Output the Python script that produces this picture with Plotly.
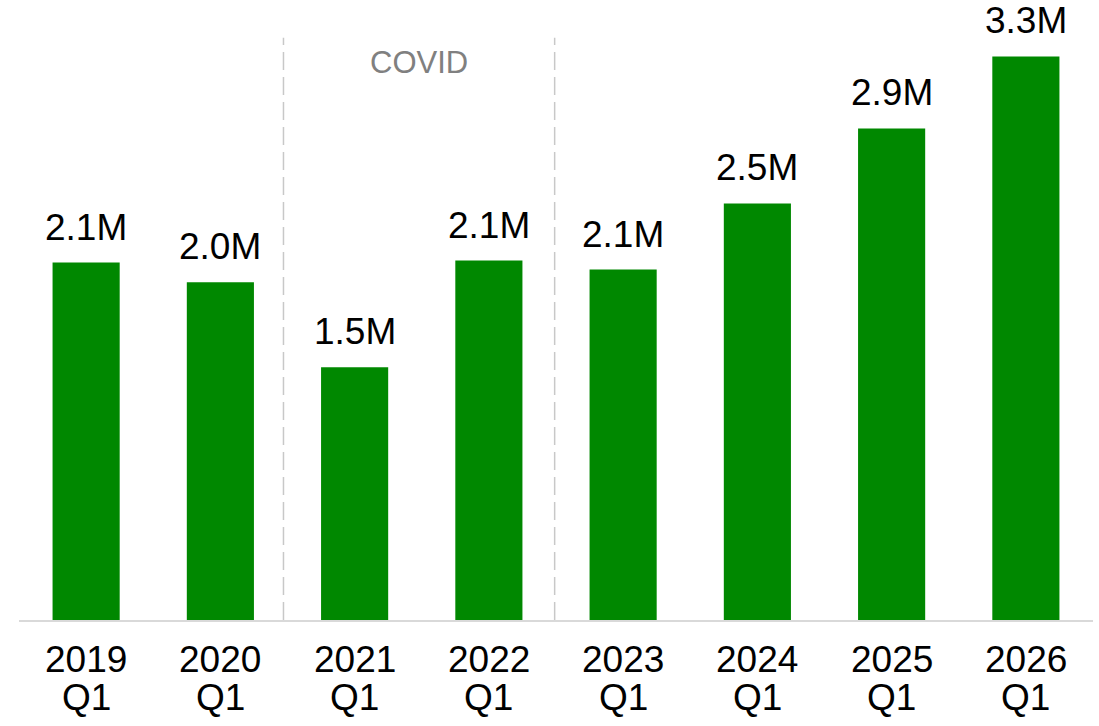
import plotly.graph_objects as go

# Quarterly volume, in millions
years = ["2019", "2020", "2021", "2022", "2023", "2024", "2025", "2026"]
quarters = ["Q1", "Q1", "Q1", "Q1", "Q1", "Q1", "Q1", "Q1"]
volume_m = [2.105, 1.989, 1.489, 2.117, 2.064, 2.453, 2.895, 3.319]

# Period bracket marking the pandemic years (category positions of the dividers)
covid_start = 1.47
covid_end = 3.49
covid_label = "COVID"

FONT = "Liberation Sans, Arial, sans-serif"
GREEN = "#008800"

fig = go.Figure(
    go.Bar(
        x=years,
        y=volume_m,
        width=0.5,
        marker=dict(color=GREEN, line=dict(width=0)),
        hoverinfo="skip",
    )
)

annotations = []
# Category axis: annotations are placed by category index
for i, (yr, q, v) in enumerate(zip(years, quarters, volume_m)):
    # Value label above the bar
    annotations.append(dict(
        x=i, y=v, xref="x", yref="y",
        text=f"{v:.1f}M", showarrow=False,
        yanchor="bottom", yshift=13,
        font=dict(family=FONT, size=37, color="#000000"),
    ))
    # Two-line category label under the axis
    annotations.append(dict(
        x=i, y=0, xref="x", yref="paper",
        text=yr, showarrow=False,
        yanchor="top", yshift=-17,
        font=dict(family=FONT, size=37, color="#000000"),
    ))
    annotations.append(dict(
        x=i, y=0, xref="x", yref="paper",
        text=q, showarrow=False,
        yanchor="top", yshift=-55,
        font=dict(family=FONT, size=37, color="#000000"),
    ))
# Period caption
annotations.append(dict(
    x=(covid_start + covid_end) / 2, y=1, xref="x", yref="paper",
    text=covid_label, showarrow=False,
    yanchor="middle", yshift=-62,
    font=dict(family=FONT, size=31, color="#808080"),
))

shapes = []
for xpos in (covid_start, covid_end):
    shapes.append(dict(
        type="line", xref="x", yref="paper",
        x0=xpos, x1=xpos, y0=0, y1=0.939,
        line=dict(color="#c8c8c8", width=1.5, dash="18px,7px"),
    ))

fig.update_layout(
    width=1099,
    height=726,
    margin=dict(l=19, r=6, t=0, b=106),
    paper_bgcolor="white",
    plot_bgcolor="white",
    showlegend=False,
    bargap=0.5,
    annotations=annotations,
    shapes=shapes,
    xaxis=dict(
        type="category",
        range=[-0.5, 7.5],
        showticklabels=False,
        showgrid=False,
        zeroline=False,
        showline=True,
        linecolor="#d9d9d9",
        linewidth=2,
        ticks="",
    ),
    yaxis=dict(
        range=[0, 3.651],
        visible=False,
        showgrid=False,
        zeroline=False,
    ),
)

fig.write_html("out.html")
